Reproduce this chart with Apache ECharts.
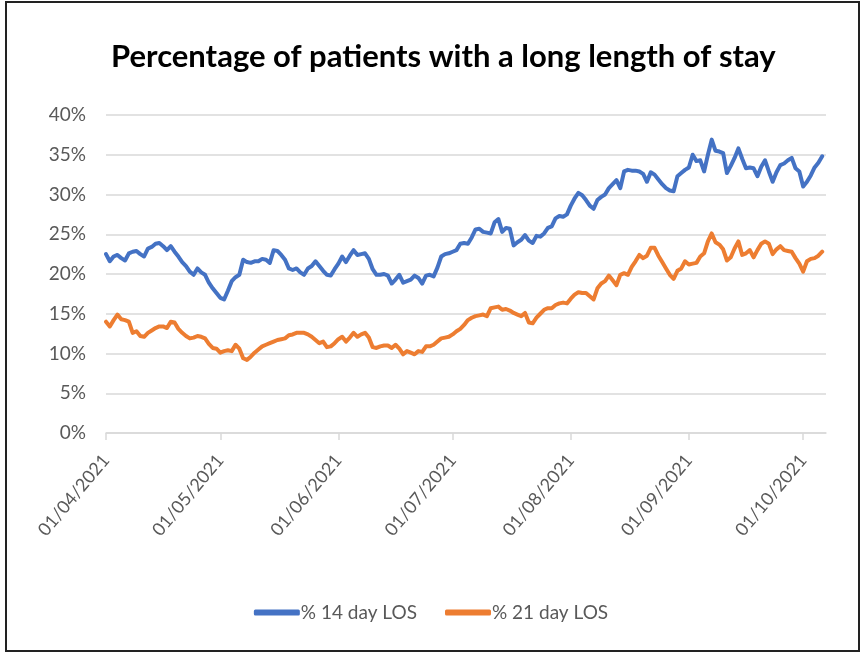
<!DOCTYPE html>
<html lang="en">
<head>
    <meta charset="UTF-8">
    <title>Percentage of patients with a long length of stay</title>
    <script src="https://cdn.jsdelivr.net/npm/echarts@6/dist/echarts.min.js"></script>
    <style>
        body { margin: 0; background: #fff; }
        #main { position: absolute; left: 0; top: 0; width: 862px; height: 656px; }
        #frame { position: absolute; left: 5px; top: 1px; width: 851px; height: 647px;
                 border: 2px solid #222; pointer-events: none; }
    </style>
</head>
<body>
<div id="main"></div>
<div id="frame"></div>
<script type="text/javascript">
    // daily values, 01/04/2021 .. 06/10/2021
    var los14 = [
        22.5, 21.6, 22.2, 22.4, 22.0, 21.7, 22.6, 22.8, 22.9, 22.5,
        22.2, 23.2, 23.4, 23.8, 23.9, 23.5, 23.0, 23.5, 22.8, 22.2,
        21.5, 21.0, 20.3, 19.9, 20.7, 20.2, 19.9, 18.9, 18.2, 17.6,
        17.0, 16.8, 17.9, 19.1, 19.6, 19.9, 21.8, 21.5, 21.4, 21.6,
        21.6, 21.9, 21.8, 21.4, 23.0, 22.9, 22.4, 21.8, 20.7, 20.5,
        20.7, 20.2, 19.9, 20.7, 21.0, 21.6, 21.0, 20.4, 19.9, 19.8,
        20.6, 21.3, 22.2, 21.5, 22.3, 23.0, 22.4, 22.5, 22.6, 21.9,
        20.6, 19.9, 19.9, 20.0, 19.8, 18.8, 19.3, 19.9, 18.9, 19.1,
        19.3, 19.8, 19.5, 18.8, 19.8, 19.9, 19.7, 20.8, 22.2, 22.5,
        22.6, 22.8, 23.0, 23.8, 23.9, 23.8, 24.6, 25.6, 25.7, 25.3,
        25.2, 25.1, 26.5, 26.9, 25.3, 25.8, 25.7, 23.6, 24.0, 24.3,
        24.9, 24.2, 23.9, 24.8, 24.7, 25.1, 25.8, 26.0, 27.0, 27.3,
        27.2, 27.5, 28.6, 29.5, 30.2, 29.9, 29.3, 28.6, 28.2, 29.3,
        29.7, 30.0, 30.8, 31.3, 31.8, 30.8, 32.9, 33.1, 33.0, 33.0,
        32.9, 32.6, 31.6, 32.8, 32.5, 31.9, 31.3, 30.8, 30.5, 30.4,
        32.3, 32.7, 33.1, 33.4, 35.0, 34.2, 34.3, 32.9, 35.0, 36.9,
        35.5, 35.4, 35.2, 32.7, 33.6, 34.6, 35.8, 34.5, 33.3, 33.4,
        33.3, 32.3, 33.5, 34.3, 32.9, 31.6, 32.8, 33.7, 33.9, 34.3,
        34.6, 33.3, 32.9, 31.0, 31.6, 32.4, 33.4, 34.0, 34.8
    ];
    var los21 = [
        14.0, 13.4, 14.2, 14.9, 14.3, 14.2, 14.0, 12.6, 12.8, 12.2,
        12.1, 12.6, 12.9, 13.2, 13.4, 13.4, 13.2, 14.0, 13.9, 13.1,
        12.6, 12.2, 11.9, 12.0, 12.2, 12.1, 11.9, 11.2, 10.7, 10.6,
        10.1, 10.3, 10.4, 10.3, 11.1, 10.6, 9.4, 9.2, 9.6, 10.1,
        10.5, 10.9, 11.1, 11.3, 11.5, 11.7, 11.8, 11.9, 12.3, 12.4,
        12.6, 12.6, 12.6, 12.4, 12.1, 11.7, 11.3, 11.5, 10.8, 10.9,
        11.3, 11.8, 12.1, 11.5, 12.0, 12.6, 12.1, 12.4, 12.6, 12.0,
        10.8, 10.7, 10.9, 11.0, 11.0, 10.7, 11.1, 10.6, 9.9, 10.3,
        10.1, 9.9, 10.3, 10.2, 10.9, 10.9, 11.1, 11.5, 11.9, 12.0,
        12.1, 12.4, 12.8, 13.1, 13.6, 14.2, 14.5, 14.7, 14.8, 14.9,
        14.7, 15.7, 15.8, 15.9, 15.5, 15.6, 15.4, 15.1, 14.9, 14.7,
        15.1, 13.9, 13.8, 14.5, 15.0, 15.5, 15.7, 15.7, 16.1, 16.3,
        16.4, 16.3, 16.9, 17.4, 17.7, 17.6, 17.6, 17.2, 16.8, 18.2,
        18.8, 19.1, 19.8, 19.2, 18.6, 19.9, 20.1, 19.9, 20.9, 21.6,
        22.4, 22.0, 22.3, 23.3, 23.3, 22.3, 21.5, 20.7, 19.9, 19.4,
        20.4, 20.7, 21.6, 21.2, 21.3, 21.4, 22.2, 22.6, 24.1, 25.1,
        24.0, 23.7, 23.1, 21.7, 22.1, 23.2, 24.1, 22.4, 22.6, 23.0,
        22.1, 23.0, 23.8, 24.1, 23.8, 22.5, 23.1, 23.5, 23.0, 22.9,
        22.8, 22.0, 21.3, 20.3, 21.6, 21.9, 22.0, 22.3, 22.8
    ];
    var seriesNames = ['% 14 day LOS', '% 21 day LOS'];

    // one category per day, axis runs to 07/10/2021
    var days = [];
    var d = new Date(2021, 3, 1);
    var last = new Date(2021, 9, 7);
    while (d <= last) {
        var dd = ('0' + d.getDate()).slice(-2);
        var mm = ('0' + (d.getMonth() + 1)).slice(-2);
        days.push(dd + '/' + mm + '/' + d.getFullYear());
        d.setDate(d.getDate() + 1);
    }
    var firstOfMonth = function (i, v) { return v.substr(0, 3) === '01/'; };

    var myChart = echarts.init(document.getElementById('main'));
    var option = {
        animation: false,
        title: {
            text: 'Percentage of patients with a long length of stay',
            left: 106,
            top: 36,
            textStyle: { fontFamily: 'Lato', fontWeight: 'bold', fontSize: 31, color: '#000' }
        },
        legend: {
            data: seriesNames,
            top: 598,
            left: 'center',
            icon: 'roundRect',
            itemWidth: 46,
            itemHeight: 6,
            itemGap: 28,
            textStyle: { fontFamily: 'Lato', fontSize: 19, color: '#595959', padding: [0, 0, 0, -4] }
        },
        grid: { left: 106, right: 36, top: 115, bottom: 223 },
        xAxis: {
            type: 'category',
            boundaryGap: false,
            data: days,
            axisLine: { lineStyle: { color: '#D9D9D9', width: 1.5 } },
            axisTick: { interval: firstOfMonth, length: 7, lineStyle: { color: '#D9D9D9', width: 1.5 } },
            axisLabel: {
                interval: firstOfMonth,
                rotate: 50,
                margin: 24,
                fontFamily: 'Lato',
                fontSize: 18,
                color: '#595959'
            },
            splitLine: { show: false }
        },
        yAxis: {
            type: 'value',
            min: 0,
            max: 40,
            interval: 5,
            axisLine: { show: false },
            axisTick: { show: false },
            axisLabel: { formatter: '{value}%', fontFamily: 'Lato', fontSize: 19, color: '#595959', margin: 20 },
            splitLine: { lineStyle: { color: '#D9D9D9', width: 1.5 } }
        },
        series: [
            {
                name: seriesNames[0],
                type: 'line',
                data: los14,
                showSymbol: false,
                color: '#4472C4',
                lineStyle: { width: 4, join: 'round', cap: 'round' }
            },
            {
                name: seriesNames[1],
                type: 'line',
                data: los21,
                showSymbol: false,
                color: '#ED7D31',
                lineStyle: { width: 4, join: 'round', cap: 'round' }
            }
        ]
    };
    myChart.setOption(option);
</script>
</body>
</html>
